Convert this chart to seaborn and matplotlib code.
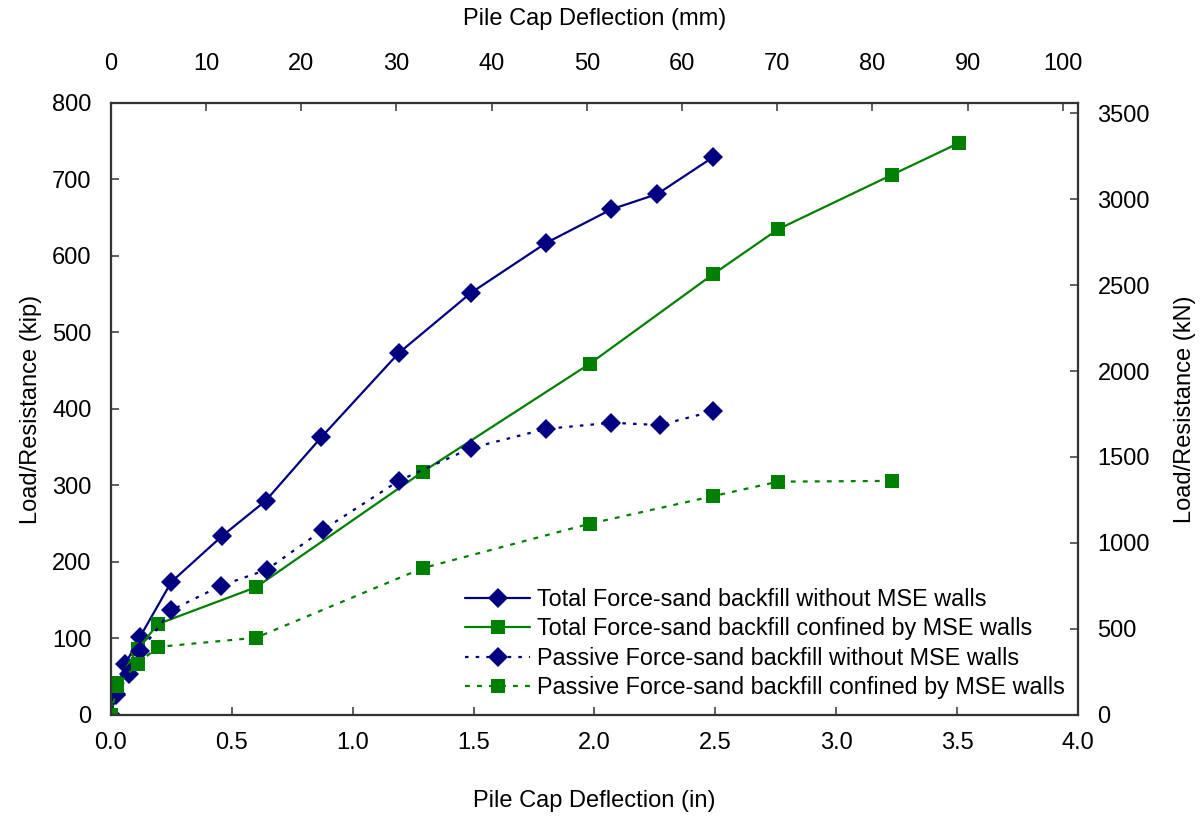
import matplotlib
matplotlib.use("Agg")
import matplotlib.pyplot as plt
import seaborn as sns
import pandas as pd
from matplotlib.ticker import MultipleLocator, FormatStrFormatter

# Pile cap deflection (in) and load/resistance (kip) for each series
defl_total_free = [0.0, 0.02, 0.06, 0.12, 0.25, 0.46, 0.64, 0.87, 1.19, 1.49, 1.80, 2.07, 2.26, 2.49]
load_total_free = [0, 28, 67, 102, 174, 234, 280, 363, 473, 552, 617, 661, 681, 729]

defl_total_mse = [0.0, 0.025, 0.11, 0.195, 0.60, 1.29, 1.98, 2.49, 2.76, 3.23, 3.51]
load_total_mse = [0, 42, 86, 119, 167, 318, 459, 576, 635, 706, 748]

defl_passive_free = [0.0, 0.02, 0.075, 0.12, 0.25, 0.455, 0.645, 0.877, 1.19, 1.49, 1.80, 2.07, 2.27, 2.49]
load_passive_free = [0, 26, 54, 83, 137, 169, 190, 242, 306, 349, 374, 382, 379, 397]

defl_passive_mse = [0.0, 0.025, 0.11, 0.195, 0.60, 1.29, 1.98, 2.49, 2.76, 3.23]
load_passive_mse = [0, 38, 67, 89, 101, 192, 250, 286, 305, 306]

series_names = [
    "Total Force-sand backfill without MSE walls",
    "Total Force-sand backfill confined by MSE walls",
    "Passive Force-sand backfill without MSE walls",
    "Passive Force-sand backfill confined by MSE walls",
]

IN_TO_MM = 25.4
KIP_TO_KN = 4.448

sns.set_style("white")
plt.rcParams["font.family"] = ["Liberation Sans", "DejaVu Sans"]
plt.rcParams["text.color"] = "black"
plt.rcParams["axes.labelcolor"] = "black"

NAVY = "#000080"
GREEN = "#008000"
FS = 17

fig = plt.figure(figsize=(12.02, 8.16), dpi=100)
ax = fig.add_axes([0.0923, 0.1238, 0.8045, 0.75])

styles = [
    dict(color=NAVY, marker="D", ms=10, dashes=None),
    dict(color=GREEN, marker="s", ms=10.5, dashes=None),
    dict(color=NAVY, marker="D", ms=10, dashes=(1.6, 3.2)),
    dict(color=GREEN, marker="s", ms=10.5, dashes=(2.2, 3.2)),
]
datasets = [
    (defl_total_free, load_total_free),
    (defl_total_mse, load_total_mse),
    (defl_passive_free, load_passive_free),
    (defl_passive_mse, load_passive_mse),
]

for name, (xs, ys), st in zip(series_names, datasets, styles):
    df = pd.DataFrame({"defl": xs, "load": ys})
    sns.lineplot(data=df, x="defl", y="load", ax=ax, color=st["color"],
                 marker=st["marker"], markersize=st["ms"], markeredgewidth=0,
                 linewidth=1.6, label=name, sort=False, estimator=None)
    line = ax.lines[-1]
    if st["dashes"] is not None:
        line.set_dashes(st["dashes"])

ax.set_xlim(0, 4.0)
ax.set_ylim(0, 800)
ax.xaxis.set_major_locator(MultipleLocator(0.5))
ax.xaxis.set_major_formatter(FormatStrFormatter("%.1f"))
ax.yaxis.set_major_locator(MultipleLocator(100))
ax.tick_params(direction="in", length=6, width=1.2, colors="#444444",
               labelcolor="black", labelsize=FS)
ax.tick_params(axis="y", pad=14)
ax.tick_params(axis="x", pad=12)
ax.set_xlabel("Pile Cap Deflection (in)", fontsize=FS, labelpad=26)
ax.set_ylabel("Load/Resistance (kip)", fontsize=FS, labelpad=7)
for sp in ax.spines.values():
    sp.set_color("#333333")
    sp.set_linewidth(1.5)

# Secondary axes in SI units
ax_top = ax.twiny()
ax_top.set_xlim(0, 4.0 * IN_TO_MM)
ax_top.xaxis.set_major_locator(MultipleLocator(10))
ax_top.tick_params(direction="in", length=6, width=1.2, colors="#444444",
                   labelcolor="black", labelsize=FS, pad=20)
ax_top.set_xlabel("Pile Cap Deflection (mm)", fontsize=FS, labelpad=20)

ax_right = ax.twinx()
ax_right.set_ylim(0, 800 * KIP_TO_KN)
ax_right.yaxis.set_major_locator(MultipleLocator(500))
ax_right.tick_params(direction="in", length=6, width=1.2, colors="#444444",
                     labelcolor="black", labelsize=FS, pad=14)
ax_right.set_ylabel("Load/Resistance (kN)", fontsize=FS, labelpad=17)
for a in (ax_top, ax_right):
    for sp in a.spines.values():
        sp.set_color("#333333")
        sp.set_linewidth(1.5)

handles, labels = ax.get_legend_handles_labels()
leg = ax.legend(handles, labels, loc="lower left", bbox_to_anchor=(0.366, 0.026),
                frameon=False, fontsize=16.8, handlelength=2.8,
                handletextpad=0.3, labelspacing=0.27, borderpad=0,
                borderaxespad=0)

fig.savefig("out.png", dpi=100)
